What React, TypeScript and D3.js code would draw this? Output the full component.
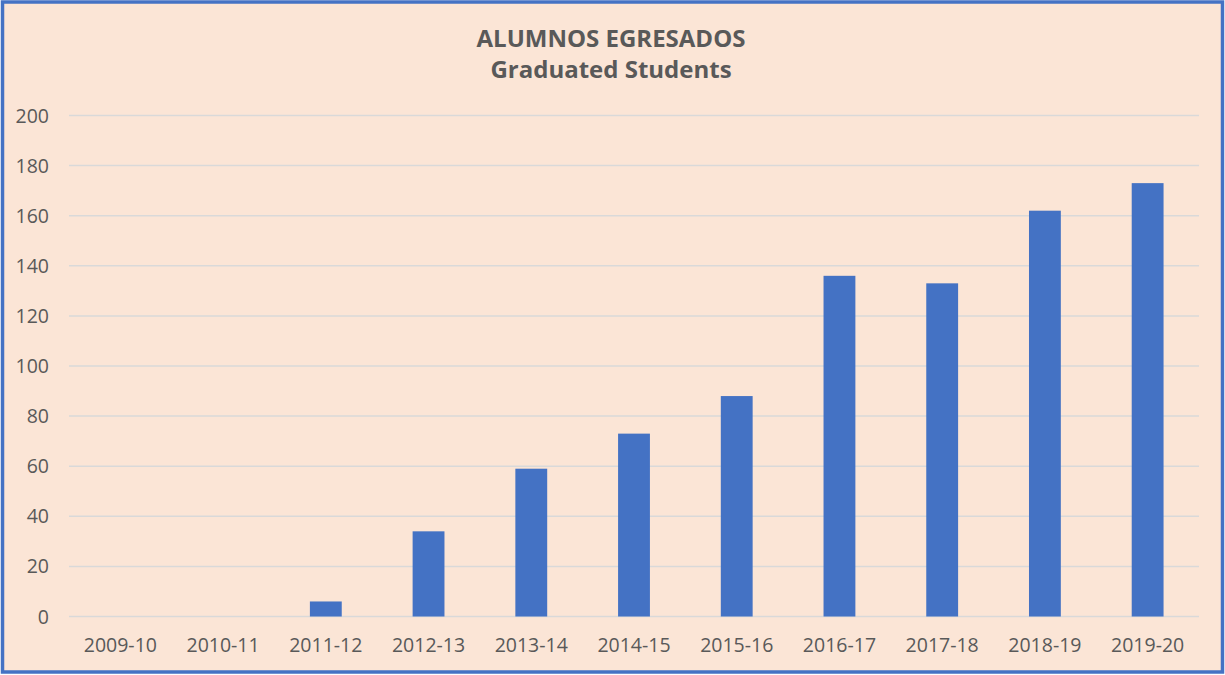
import React from 'react'
import * as d3 from 'd3'

const years = ['2009-10', '2010-11', '2011-12', '2012-13', '2013-14', '2014-15', '2015-16', '2016-17', '2017-18', '2018-19', '2019-20']
const graduates = [0, 0, 6, 34, 59, 73, 88, 136, 133, 162, 173]
const yTicks = [0, 20, 40, 60, 80, 100, 120, 140, 160, 180, 200]
const titleLines = ['ALUMNOS EGRESADOS', 'Graduated Students']

const W = 1225
const H = 675
const FONT = '"Open Sans", "Noto Sans", sans-serif'

const App: React.FC = () => {
    const x = d3.scaleBand<string>().domain(years).range([69, 1199]).padding(0)
    const y = d3.scaleLinear().domain([0, 200]).range([616.5, 115.5])
    const barW = x.bandwidth() * 0.31

    return (
        <svg width={W} height={H} style={{ position: 'absolute', left: 0, top: 0 }} fontFamily={FONT}>
            <rect x={2.5} y={2} width={W - 5} height={H - 5} fill="#FBE5D6" stroke="#4472C4" strokeWidth={3.5} />

            {/* title */}
            {titleLines.map((t, i) => (
                <text key={t} x={611} y={46.5 + i * 31.8} textAnchor="middle" fontSize={24} fontWeight="bold" fill="#595959">{t}</text>
            ))}

            {/* gridlines + y labels */}
            {yTicks.map(v => (
                <g key={v}>
                    <line x1={69} x2={1199} y1={y(v)} y2={y(v)} stroke="#D9D9D9" strokeWidth={1.5} />
                    <text x={49} y={y(v)} dy="0.36em" textAnchor="end" fontSize={19.5} fill="#595959">{v}</text>
                </g>
            ))}

            {/* bars */}
            {graduates.map((v, i) => (
                v > 0 && <rect key={years[i]}
                    x={x(years[i])! + (x.bandwidth() - barW) / 2}
                    y={y(v)}
                    width={barW}
                    height={y(0) - y(v)}
                    fill="#4472C4" />
            ))}

            {/* x labels */}
            {years.map(yr => (
                <text key={yr} x={x(yr)! + x.bandwidth() / 2} y={651.5} textAnchor="middle" fontSize={19.5} fill="#595959">{yr}</text>
            ))}
        </svg>
    )
}

export default App
